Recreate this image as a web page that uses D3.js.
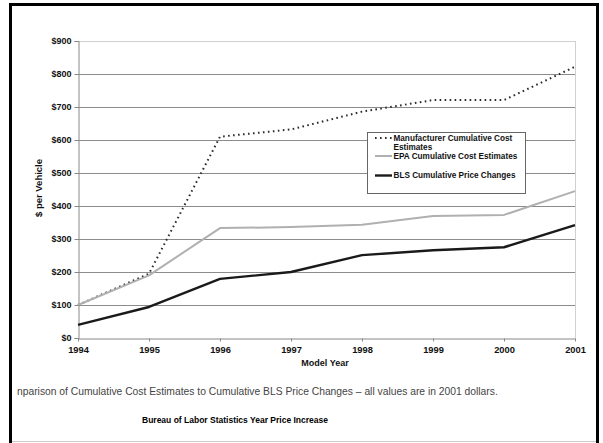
<!DOCTYPE html>
<html>
<head>
<meta charset="utf-8">
<script src="https://cdn.jsdelivr.net/npm/d3@7"></script>
<style>
  html, body { margin: 0; padding: 0; background: #fff; }
  svg { display: block; font-family: "Liberation Sans", Arial, sans-serif; }
</style>
</head>
<body>
<svg id="chart" width="603" height="443"></svg>
<script>
// Model years and cumulative $ per vehicle for each series
const years = [1994, 1995, 1996, 1997, 1998, 1999, 2000, 2001];
const manufacturer = [100, 195, 610, 632, 686, 721, 721, 822];
const epa = [100, 190, 333, 336, 343, 370, 373, 445];
const bls = [40, 94, 179, 200, 251, 266, 275, 342];
const yTicks = [0, 100, 200, 300, 400, 500, 600, 700, 800, 900];

const series = [
  { name: "Manufacturer Cumulative Cost|Estimates", values: manufacturer, color: "#2a2a2a", width: 2, dash: "1.6,3.4" },
  { name: "EPA Cumulative Cost Estimates", values: epa, color: "#b0b0b0", width: 2, dash: null },
  { name: "BLS Cumulative Price Changes", values: bls, color: "#1a1a1a", width: 2.4, dash: null }
];

const svg = d3.select("#chart");
const m = { left: 78, right: 575, top: 41, bottom: 338 };

const x = d3.scalePoint().domain(years).range([m.left, m.right]);
const y = d3.scaleLinear().domain([0, 900]).range([m.bottom, m.top]);

// outer frame: heavy black bars on three sides, faint rule at the foot
const frame = svg.append("g").attr("fill", "#000");
frame.append("rect").attr("x", 9).attr("y", 3).attr("width", 3).attr("height", 440);
frame.append("rect").attr("x", 596).attr("y", 3).attr("width", 3).attr("height", 440);
frame.append("rect").attr("x", 9).attr("y", 3).attr("width", 590).attr("height", 3);
svg.append("rect").attr("x", 12).attr("y", 441).attr("width", 584).attr("height", 1).attr("fill", "#ccc");

// horizontal gridlines
svg.append("g").selectAll("line").data(yTicks.filter(d => d > 0)).join("line")
  .attr("x1", m.left).attr("x2", m.right)
  .attr("y1", d => Math.round(y(d)) + 0.5).attr("y2", d => Math.round(y(d)) + 0.5)
  .attr("stroke", d => d === 900 ? "#cfcfcf" : "#8c8c8c").attr("stroke-width", 1.2);

// right plot border
svg.append("line").attr("x1", m.right + 0.5).attr("x2", m.right + 0.5)
  .attr("y1", m.top).attr("y2", m.bottom).attr("stroke", "#d0d0d0");

// y axis
const yAxis = svg.append("g").attr("transform", `translate(${m.left + 0.5},0)`)
  .call(d3.axisLeft(y).tickValues(yTicks).tickSize(4).tickPadding(3).tickFormat(d => "$" + d));
yAxis.select(".domain").attr("stroke", "#888");
yAxis.selectAll(".tick line").attr("stroke", "#888");
yAxis.selectAll(".tick text").attr("font-size", "9px").attr("font-weight", "bold")
  .attr("fill", "#111").attr("font-family", "Liberation Sans, Arial, sans-serif");

// x axis
const xAxis = svg.append("g").attr("transform", `translate(0,${m.bottom + 0.5})`)
  .call(d3.axisBottom(x).tickSize(3).tickPadding(5).tickSizeOuter(0));
xAxis.select(".domain").attr("stroke", "#888");
xAxis.selectAll(".tick line").attr("stroke", "#888");
xAxis.selectAll(".tick text").attr("font-size", "9.3px").attr("font-weight", "bold")
  .attr("fill", "#111").attr("font-family", "Liberation Sans, Arial, sans-serif");

// axis titles
svg.append("text").attr("x", 325).attr("y", 366).attr("text-anchor", "middle")
  .attr("font-size", "9px").attr("font-weight", "bold").attr("fill", "#111").text("Model Year");
svg.append("text").attr("transform", "translate(42,188) rotate(-90)").attr("text-anchor", "middle")
  .attr("font-size", "9.5px").attr("font-weight", "bold").attr("fill", "#111").text("$ per Vehicle");

// series lines
const line = d3.line().x((d, i) => x(years[i])).y(d => y(d));
series.forEach(s => {
  svg.append("path").datum(s.values).attr("d", line)
    .attr("fill", "none").attr("stroke", s.color).attr("stroke-width", s.width)
    .attr("stroke-dasharray", s.dash).attr("stroke-linejoin", "round");
});

// legend
const lg = svg.append("g");
lg.append("rect").attr("x", 367.5).attr("y", 132.5).attr("width", 158).attr("height", 61)
  .attr("fill", "#fff").attr("stroke", "#666").attr("stroke-width", 1);
const rowsY = [140.5, 158.5, 178];
series.forEach((s, i) => {
  const ly = rowsY[i];
  lg.append("line").attr("x1", 375).attr("x2", 392).attr("y1", ly - 2.5).attr("y2", ly - 2.5)
    .attr("stroke", s.color).attr("stroke-width", s.width).attr("stroke-dasharray", s.dash);
  s.name.split("|").forEach((t, j) => {
    lg.append("text").attr("x", 393.5).attr("y", ly + j * 9)
      .attr("font-size", "8.2px").attr("font-weight", "bold").attr("fill", "#111").text(t);
  });
});

// caption and title
svg.append("text").attr("x", 17).attr("y", 395).attr("font-size", "10.3px").attr("fill", "#444")
  .text("nparison of Cumulative Cost Estimates to Cumulative BLS Price Changes \u2013 all values are in 2001 dollars.");
svg.append("text").attr("x", 235).attr("y", 423).attr("text-anchor", "middle")
  .attr("font-size", "8.5px").attr("font-weight", "bold").attr("fill", "#000")
  .text("Bureau of Labor Statistics Year Price Increase");
</script>
</body>
</html>
